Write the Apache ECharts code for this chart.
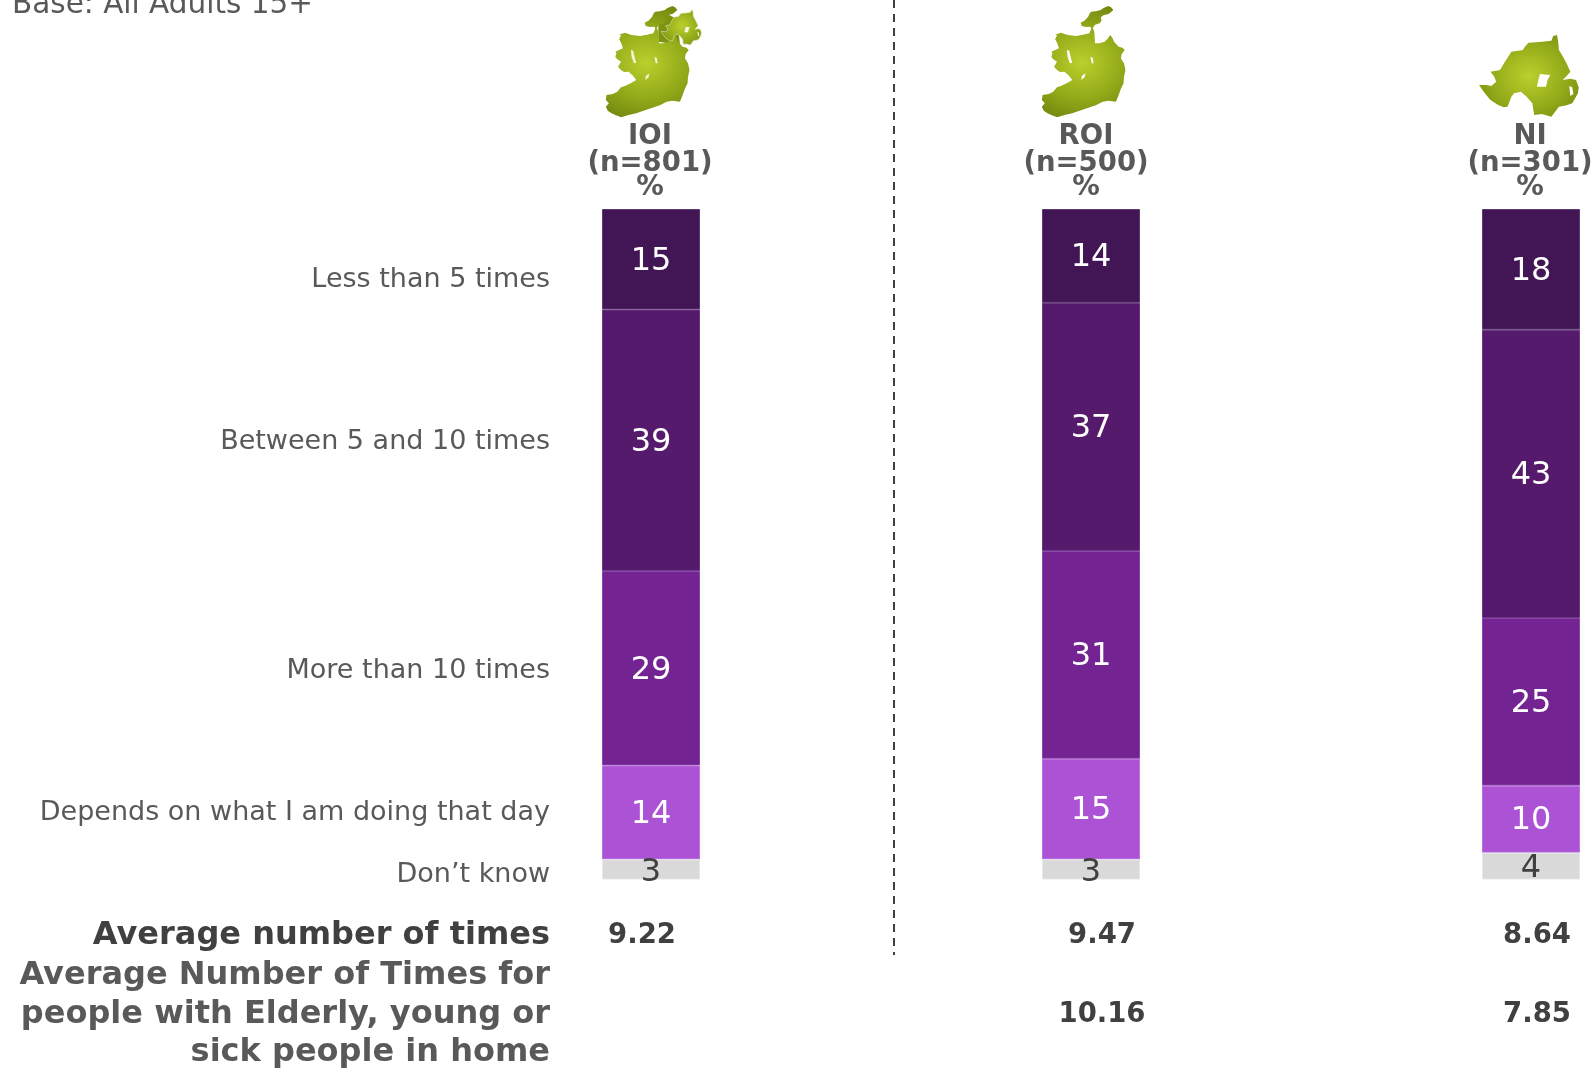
<!DOCTYPE html>
<html><head><meta charset="utf-8">
<style>html,body{margin:0;padding:0;background:#fff}#c{width:1596px;height:1068px}</style>
<script src="https://cdn.jsdelivr.net/npm/echarts@6/dist/echarts.min.js"></script>
</head><body><div id="c"></div>
<script>
const categories = ['IOI', 'ROI', 'NI'];
const sampleSizes = ['(n=801)', '(n=500)', '(n=301)'];
const rowNames = ['Less than 5 times', 'Between 5 and 10 times', 'More than 10 times', 'Depends on what I am doing that day', 'Don’t know'];
const lessThan5 = [15, 14, 18];
const between5And10 = [39, 37, 43];
const moreThan10 = [29, 31, 25];
const depends = [14, 15, 10];
const dontKnow = [3, 3, 4];
const averageAll = ['9.22', '9.47', '8.64'];
const averageCarers = ['', '10.16', '7.85'];
const baseNote = 'Base: All Adults 15+';
const averageTitle = 'Average number of times';
const carersTitle = ['Average Number of Times for', 'people with Elderly, young or', 'sick people in home'];

const FONT = '"DejaVu Sans", sans-serif';
const seriesValues = [lessThan5, between5And10, moreThan10, depends, dontKnow];
const seriesColors = ['#421654', '#551a6b', '#732492', '#ac52d4', '#d9d9d9'];
const edgeColors = ['#5c3a70', '#6b3585', '#8a45aa', '#bd72e0', '#e6e6e6'];
const labelColors = ['#fff', '#fff', '#fff', '#fff', '#404040'];
const labelNudge = [2, 2, 2, 2, 3];
const rowLabelY = [280, 442, 671, 813, 875];
const headerX = [650, 1086, 1530];
const avgX = [642, 1102, 1537];

// Decorative map silhouettes (outline points, not data)
const roiOutline = '248 95 250 130 262 130 275 125 283 116 290 105 296 115 300 125 312 140 322 143 328 150 320 162 318 175 326 190 330 210 326 232 325 250 318 266 312 285 305 305 285 302 270 305 252 316 240 320 215 330 190 340 170 345 150 352 135 345 125 340 115 332 110 320 118 310 110 300 112 285 128 282 140 275 150 262 160 258 175 250 190 240 182 228 170 215 158 216 150 210 142 200 150 185 140 178 135 170 138 160 135 155 155 145 150 128 145 118 150 106 145 104 160 98 178 105 200 108 218 104 235 100 240 86 238 80 226 81 215 78 212 68 222 62 232 50 236 40 240 35 252 34 265 30 272 24 285 18 292 22 298 30 290 38 285 42 272 46 265 52 267 62 262 70 250 74 244 84';
const roiLakes = ['176 150 182 152 186 172 190 188 184 190 178 172', '238 170 244 174 246 190 241 190', '215 228 225 220 222 232 214 240'];
const niOutline = '1455 108 1465 105 1468 125 1470 150 1478 165 1490 190 1500 215 1492 226 1480 240 1500 236 1515 240 1522 262 1520 280 1505 310 1490 316 1470 320 1460 335 1450 350 1425 342 1405 345 1400 310 1385 290 1370 275 1352 280 1345 290 1335 320 1325 322 1310 315 1290 300 1275 280 1260 255 1280 255 1292 258 1305 245 1300 230 1290 215 1315 210 1328 185 1345 155 1375 150 1382 138 1390 128 1420 126 1450 122';
const niLakes = ['1420 222 1447 225 1440 240 1436 260 1412 260 1416 240', '1497 258 1505 262 1508 282 1500 288'];
const ioiJoin = '235 62 262 42 292 58 300 135 235 125';

function pts(s) {
  const n = s.split(' ').map(Number), out = [];
  for (let i = 0; i < n.length; i += 2) out.push([n[i], n[i + 1]]);
  return out;
}
function grad(cx, cy, r) {
  return { type: 'radial', x: cx, y: cy, r: r, colorStops: [
    { offset: 0, color: '#bad02c' }, { offset: 0.55, color: '#8fa618' }, { offset: 1, color: '#667c0a' }] };
}
function mapShape(s, x, y, sx, sy, fill, stroke) {
  return { type: 'polygon', x, y, scaleX: sx, scaleY: sy, silent: true,
    shape: { points: pts(s) }, style: { fill, stroke: stroke || null, lineWidth: stroke ? 4 : 0 } };
}
const zx = 1 / 2.63, zy = 1 / 3, niS = 0.154, niT = 0.143;
const graphics = [
  mapShape(ioiJoin, 580, 0, 1 / 3, 1 / 3, '#7c9410'),
  mapShape(roiOutline, 564, 0, zx, zy, grad(0.48, 0.51, 0.95)),
  mapShape(niOutline, 467, -5, niS, niT, grad(0.52, 0.45, 0.85), '#dfe5c0'),
  mapShape(roiOutline, 1000, 0, zx, zy, grad(0.48, 0.51, 0.95)),
  mapShape(niOutline, 1000, 0, zx, zy, grad(0.5, 0.5, 0.8)),
  { type: 'line', silent: true, shape: { x1: 894, y1: 0, x2: 894, y2: 955 },
    style: { stroke: '#404040', lineWidth: 2, lineDash: [8, 6] } },
  { type: 'text', silent: true, x: 12, y: 5, style: { text: baseNote, font: '29.5px ' + FONT, fill: '#595959', textAlign: 'left', textVerticalAlign: 'middle' } }
];
roiLakes.forEach(l => {
  graphics.push(mapShape(l, 564, 0, zx, zy, '#f2f5d8'));
  graphics.push(mapShape(l, 1000, 0, zx, zy, '#ffffff'));
});
niLakes.forEach(l => {
  graphics.push(mapShape(l, 467, -5, niS, niT, '#f6f8e2'));
  graphics.push(mapShape(l, 1000, 0, zx, zy, '#ffffff'));
});
function txt(text, x, y, font, fill, align) {
  graphics.push({ type: 'text', silent: true, x, y, style: { text, font: font + ' ' + FONT, fill, textAlign: align, textVerticalAlign: 'middle' } });
}
categories.forEach((c, i) => {
  txt(c, headerX[i], 137, 'bold 27.5px', '#595959', 'center');
  txt(sampleSizes[i], headerX[i], 164, 'bold 27.5px', '#595959', 'center');
  txt('%', headerX[i], 188, 'bold 27.5px', '#595959', 'center');
  txt(averageAll[i], avgX[i], 936, 'bold 27.5px', '#404040', 'center');
  if (averageCarers[i]) txt(averageCarers[i], avgX[i], 1015, 'bold 27.5px', '#404040', 'center');
});
rowNames.forEach((n, i) => txt(n, 550, rowLabelY[i], '27px', '#595959', 'right'));
txt(averageTitle, 550, 936, 'bold 32px', '#404040', 'right');
carersTitle.forEach((t, i) => txt(t, 550, 976 + i * 38.5, 'bold 32px', '#595959', 'right'));

const chart = echarts.init(document.getElementById('c'), null, { renderer: 'canvas' });
chart.setOption({
  animation: false,
  backgroundColor: '#fff',
  grid: { left: 431, width: 1320, top: 209, height: 670.5, outerBoundsMode: 'none' },
  xAxis: { type: 'category', data: categories, show: false },
  yAxis: { type: 'value', min: 0, max: 100, inverse: true, show: false },
  series: rowNames.map((name, i) => ({
    name, type: 'bar', stack: 'all', barWidth: 98, data: seriesValues[i],
    itemStyle: { color: seriesColors[i], borderColor: edgeColors[i], borderWidth: 1 },
    label: { show: true, position: 'inside', offset: [0, labelNudge[i]], fontFamily: FONT, fontSize: 32, color: labelColors[i] }
  })),
  graphic: graphics
});
</script></body></html>
